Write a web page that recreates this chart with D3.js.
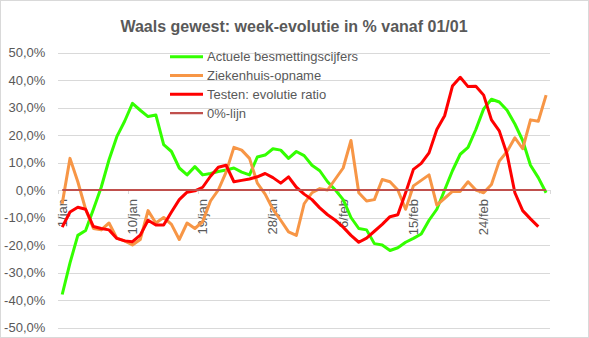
<!DOCTYPE html>
<html><head><meta charset="utf-8">
<script src="https://cdn.jsdelivr.net/npm/d3@7"></script>
<style>
body{margin:0;background:#fff}
svg{display:block}
text{font-family:"Liberation Sans",Arial,sans-serif;fill:#595959}
</style>
</head><body>
<svg id="c" width="589" height="338"></svg>
<script>
const categories = ["1/jan","2/jan","3/jan","4/jan","5/jan","6/jan","7/jan","8/jan","9/jan","10/jan",
"11/jan","12/jan","13/jan","14/jan","15/jan","16/jan","17/jan","18/jan","19/jan","20/jan",
"21/jan","22/jan","23/jan","24/jan","25/jan","26/jan","27/jan","28/jan","29/jan","30/jan","31/jan",
"1/feb","2/feb","3/feb","4/feb","5/feb","6/feb","7/feb","8/feb","9/feb","10/feb",
"11/feb","12/feb","13/feb","14/feb","15/feb","16/feb","17/feb","18/feb","19/feb","20/feb",
"21/feb","22/feb","23/feb","24/feb","25/feb","26/feb","27/feb","28/feb","1/mar","2/mar","3/mar","4/mar"];
const xTickLabels = ["1/jan","10/jan","19/jan","28/jan","6/feb","15/feb","24/feb"];
const yTicks = [-50,-40,-30,-20,-10,0,10,20,30,40,50];
const seriesNames = ["Actuele besmettingscijfers","Ziekenhuis-opname","Testen: evolutie ratio","0%-lijn"];
const besmetting = [-38,-26.5,-16.5,-14.7,-7,1,11,19.4,25,31.5,
29,26.7,27.3,16.5,14,8,5.5,8.5,5.5,6,
6.7,7.3,8,6.5,5.5,12,12.7,15,14.5,11.5,
14,12.5,9,7,3,0,-3.5,-10,-14,-14.5,
-19.5,-20,-22,-21,-19,-17.6,-16,-11,-7,0,
7,13,15.5,22,29.5,33,32,29,24,18,
9,4.5,-1];
const ziekenhuis = [-5,11.5,3,-7,-14,-14.5,-12,-17.5,-18.5,-20,
-18,-7.5,-12,-10,-12.5,-18,-12,-14,-11.5,-4,
0,6.5,15.5,14.5,11.5,2.5,-1.5,-7,-11,-15.2,
-16.5,-5,-1,0.5,0,4,8,18,-1,-4,
-3.5,3.8,3,0,-7,1.5,3.5,5.5,-5.5,-3,
-0.5,-0.5,3,0,-1,2,10.5,14,19,15,
25.5,25,34.5];
const testen = [-13.5,-8,-6.3,-7,-13.3,-14,-14.5,-17.6,-18.5,-18.8,
-16.4,-11,-12.7,-12.7,-8,-3.5,-0.8,-0.3,1,5,
8.3,9,3,3.5,4,4.8,6,4.5,2.5,4.8,
1,-1.5,-3.5,-6.5,-9,-11,-13.5,-16.5,-19,-17.5,
-15,-12.5,-9.7,-9,-1,7.5,9.7,13.5,22,27,
37.8,41,37.6,37.7,34.5,25.5,21.5,13,-1,-7.5,
-10.5,-13.3,null];
const nulLijn = [0,0,0,0,0,0,0,0,0,0,0,0,0,0,0,0,0,0,0,0,0,0,0,0,0,0,0,0,0,0,0,0,0,0,0,0,0,0,0,0,0,0,0,0,0,0,0,0,0,0,0,0,0,0,0,0,0,0,0,0,0,0,0];
const colors = ["#33ff00","#f79646","#ff0000","#c0504d"];
const widths = [3,3,3,2.2];

const W=589,H=338;
const svg=d3.select("#c");
svg.append("rect").attr("x",0.5).attr("y",0.5).attr("width",W-1).attr("height",H-1)
  .attr("fill","#fff").attr("stroke","#d9d9d9");

const left=58.3,right=550;
const x=d3.scaleBand().domain(categories).range([left,right]);
const y=d3.scaleLinear().domain([-50,50]).range([327.5,52.5]);
const cx=c=>x(c)+x.bandwidth()/2;

// title
svg.append("text").attr("x",294).attr("y",32).attr("text-anchor","middle")
  .style("font-size","16px").style("font-weight","bold").text("Waals gewest: week-evolutie in %  vanaf 01/01");

// y axis + gridlines
const fmt=d=>d.toFixed(1).replace(".",",")+"%";
const ya=svg.append("g").attr("transform",`translate(${left},0)`)
  .call(d3.axisLeft(y).tickValues(yTicks).tickFormat(fmt).tickSize(-(right-left)).tickPadding(13));
ya.select(".domain").remove();
ya.selectAll(".tick line").attr("stroke","#d9d9d9").attr("shape-rendering","crispEdges");
ya.selectAll(".tick text").style("font-size","13px").style("font-family",'"Liberation Sans",Arial,sans-serif').attr("fill","#595959");

// x axis line + ticks at boundaries
svg.append("line").attr("x1",left).attr("x2",right).attr("y1",y(0)).attr("y2",y(0))
  .attr("stroke","#d9d9d9").attr("shape-rendering","crispEdges");
const tickPos = xTickLabels.map(c=>x(c)).concat([right]);
svg.append("g").selectAll("line").data(tickPos).join("line")
  .attr("x1",d=>d).attr("x2",d=>d).attr("y1",y(0)).attr("y2",y(0)+4)
  .attr("stroke","#d9d9d9").attr("shape-rendering","crispEdges");

// x labels (under the lines, as in reference)
const xa=svg.append("g").attr("transform",`translate(0,${y(0)})`)
  .call(d3.axisBottom(x).tickValues(xTickLabels).tickSize(0));
xa.select(".domain").remove();
xa.selectAll(".tick text").attr("transform","rotate(-90)").attr("text-anchor","end")
  .attr("x",-9).attr("y",0).attr("dy","0.35em")
  .style("font-size","13px").style("font-family",'"Liberation Sans",Arial,sans-serif').attr("fill","#595959");

// series
const line=d3.line().defined(d=>d!=null).x((d,i)=>cx(categories[i])).y(d=>y(d));
const allSeries=[besmetting,ziekenhuis,testen,nulLijn];
svg.append("g").selectAll("path").data(allSeries).join("path")
  .attr("d",line).attr("fill","none")
  .attr("stroke",(d,i)=>colors[i]).attr("stroke-width",(d,i)=>widths[i])
  .attr("stroke-linejoin","round").attr("stroke-linecap","butt");

// legend
const lg=svg.append("g").selectAll("g").data(seriesNames).join("g")
  .attr("transform",(d,i)=>`translate(170,${56.7+i*18.8})`);
lg.append("line").attr("x1",0).attr("x2",33).attr("y1",0).attr("y2",0)
  .attr("stroke",(d,i)=>colors[i]).attr("stroke-width",(d,i)=>widths[i]);
lg.append("text").attr("x",37).attr("dy","0.36em").style("font-size","13px").text(d=>d);
</script>
</body></html>
